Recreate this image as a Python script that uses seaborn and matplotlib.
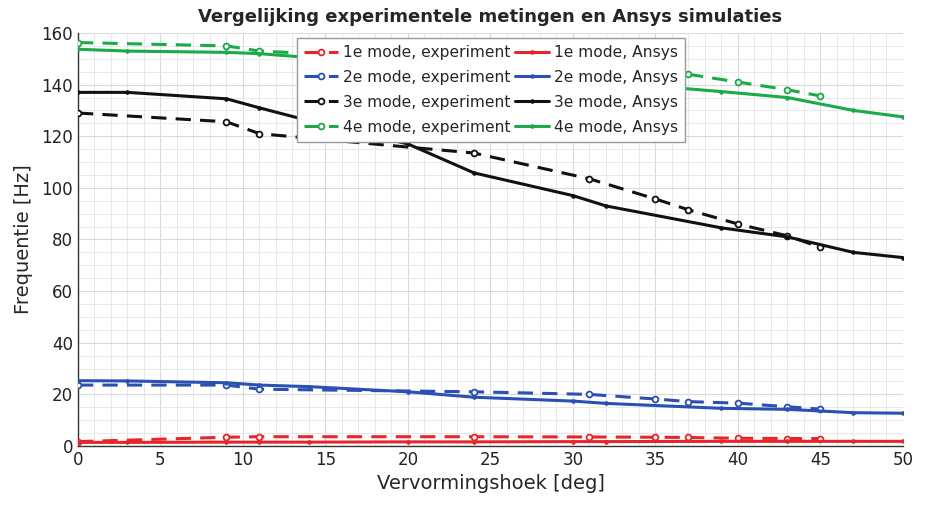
import numpy as np
import pandas as pd
import matplotlib
matplotlib.use("Agg")
import matplotlib.pyplot as plt
from matplotlib.ticker import MultipleLocator
import seaborn as sns

# ---- data ----
exp_x = [0, 9, 11, 24, 31, 35, 37, 40, 43, 45]
exp_1 = [1.7, 3.4, 3.6, 3.6, 3.5, 3.4, 3.3, 3.0, 2.9, 2.9]
exp_2 = [23.6, 23.6, 22.0, 21.0, 20.0, 18.2, 17.2, 16.6, 15.2, 14.3]
exp_3 = [129.0, 125.6, 121.0, 113.5, 103.5, 95.7, 91.5, 86.0, 81.4, 77.0]
exp_4 = [156.3, 155.0, 153.0, 149.0, 147.0, 145.5, 144.0, 141.0, 138.0, 135.6]

ans_x = [0, 3, 9, 11, 14, 20, 24, 30, 32, 39, 43, 47, 50]
ans_1 = [1.4, 1.4, 1.5, 1.5, 1.5, 1.6, 1.6, 1.7, 1.7, 1.8, 1.8, 1.8, 1.8]
ans_2 = [25.3, 25.2, 24.5, 23.6, 23.0, 21.0, 18.9, 17.4, 16.5, 14.6, 14.2, 12.9, 12.7]
ans_3 = [137.0, 137.0, 134.5, 131.0, 126.0, 117.0, 105.8, 97.0, 93.0, 84.5, 81.0, 75.0, 73.0]
ans_4 = [153.7, 153.0, 152.5, 152.0, 150.5, 148.0, 146.0, 142.0, 141.0, 137.3, 135.0, 130.0, 127.5]

mode_names = ["1e mode", "2e mode", "3e mode", "4e mode"]
colors = ["#e8262a", "#2a50b4", "#111111", "#1aaa48"]

title = "Vergelijking experimentele metingen en Ansys simulaties"
xlabel = "Vervormingshoek [deg]"
ylabel = "Frequentie [Hz]"

sns.set_style("white")
plt.rcParams["font.family"] = ["DejaVu Sans"]

fig = plt.figure(figsize=(9.28, 5.08), dpi=100)
ax = fig.add_axes([78 / 928, 1 - 446 / 508, 825 / 928, 413 / 508])

exp_series = [exp_1, exp_2, exp_3, exp_4]
ans_series = [ans_1, ans_2, ans_3, ans_4]

for name, c, ys in zip(mode_names, colors, exp_series):
    df = pd.DataFrame({"x": exp_x, "y": ys})
    sns.lineplot(data=df, x="x", y="y", ax=ax, color=c, lw=2.2,
                 marker="o", markersize=4.2, markerfacecolor="white",
                 markeredgecolor=c, markeredgewidth=1.3,
                 label=f"{name}, experiment", zorder=3)
    ax.lines[-1].set_dashes((5, 3))
for name, c, ys in zip(mode_names, colors, ans_series):
    df = pd.DataFrame({"x": ans_x, "y": ys})
    sns.lineplot(data=df, x="x", y="y", ax=ax, color=c, lw=2.2,
                 marker="o", markersize=2.5, markeredgecolor=c,
                 label=f"{name}, Ansys", zorder=3)

ax.set_xlim(0, 50)
ax.set_ylim(0, 160)
ax.xaxis.set_major_locator(MultipleLocator(5))
ax.yaxis.set_major_locator(MultipleLocator(20))
ax.xaxis.set_minor_locator(MultipleLocator(1))
ax.yaxis.set_minor_locator(MultipleLocator(5))
ax.grid(which="major", color="#dadada", lw=0.8)
ax.grid(which="minor", color="#e8e8e8", lw=0.7)
ax.set_axisbelow(True)
for s in ["top", "right"]:
    ax.spines[s].set_visible(False)
for s in ["left", "bottom"]:
    ax.spines[s].set_color("#333333")
    ax.spines[s].set_linewidth(1.0)
ax.tick_params(axis="both", which="major", labelsize=12, length=4,
               direction="in", colors="#222222")
ax.tick_params(axis="both", which="minor", length=0)

ax.set_title(title, fontsize=13, fontweight="bold", pad=8)
ax.set_xlabel(xlabel, fontsize=14, labelpad=4)
ax.set_ylabel(ylabel, fontsize=14, labelpad=6)

leg = ax.legend(loc="upper left", bbox_to_anchor=(0.265, 0.988), ncol=2,
                fontsize=11.2, frameon=True, fancybox=False, framealpha=1,
                edgecolor="#9a9a9a", handlelength=2.2, handletextpad=0.3,
                columnspacing=0.3, labelspacing=0.64, borderpad=0.45,
                borderaxespad=0)
leg.set_zorder(10)

fig.savefig("out.png", dpi=100)
